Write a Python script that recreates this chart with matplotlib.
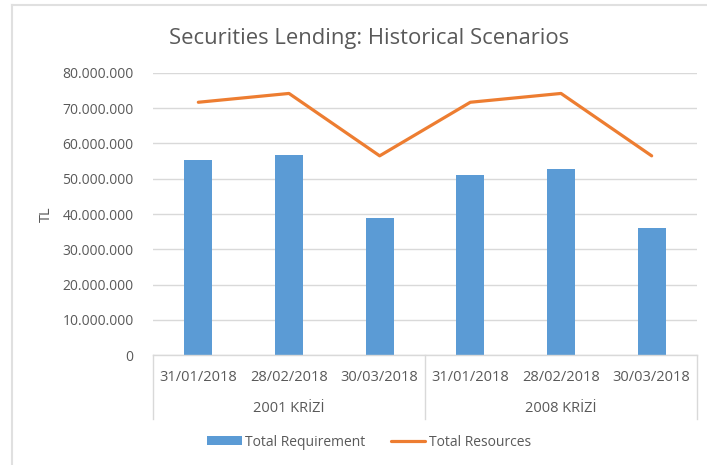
import matplotlib
matplotlib.use("Agg")
import matplotlib.pyplot as plt
from matplotlib.lines import Line2D
from matplotlib.ticker import FuncFormatter
import matplotlib.transforms as mtransforms
import numpy as np

title = "Securities Lending: Historical Scenarios"
groups = ["2001 KRİZİ", "2008 KRİZİ"]
dates = ["31/01/2018", "28/02/2018", "30/03/2018"]
requirement = [55300000, 56800000, 39000000, 51100000, 52700000, 36000000]
resources = [71700000, 74200000, 56500000, 71700000, 74200000, 56500000]
y_ticks = [0, 10000000, 20000000, 30000000, 40000000, 50000000, 60000000, 70000000, 80000000]

plt.rcParams['font.family'] = ['Open Sans', 'DejaVu Sans']
TXT = "#595959"
GRID = "#D9D9D9"
BLUE = "#5B9BD5"
ORANGE = "#ED7D31"

fig = plt.figure(figsize=(7.07, 4.65), dpi=100)
ax = fig.add_axes([153/707, 1-355/465, (697-153)/707, (355-73)/465])

n = len(groups) * len(dates)
x = np.arange(n)
bars = ax.bar(x, requirement, width=0.31, color=BLUE, label="Total Requirement", zorder=2)
line, = ax.plot(x, resources, color=ORANGE, lw=2.3, label="Total Resources", zorder=3,
                solid_joinstyle='round', solid_capstyle='round')

ax.set_xlim(-0.5, n - 0.5)
ax.set_ylim(0, y_ticks[-1])
ax.set_yticks(y_ticks)
ax.yaxis.set_major_formatter(FuncFormatter(lambda v, p: f"{int(v):,}".replace(",", ".")))
ax.grid(axis='y', color=GRID, lw=1, zorder=0)
for s in ["top", "right", "left"]:
    ax.spines[s].set_visible(False)
ax.spines["bottom"].set_color(GRID)
ax.spines["bottom"].set_linewidth(1)
ax.tick_params(axis='y', length=0, labelsize=10, labelcolor=TXT, pad=14)
ax.tick_params(axis='x', length=0, labelsize=10.5, labelcolor=TXT, pad=11)
ax.set_xticks(x)
ax.set_xticklabels(dates * len(groups))
ax.set_ylabel("TL", fontsize=10.5, color=TXT, labelpad=6)

trans = mtransforms.blended_transform_factory(ax.transData, ax.transAxes)
bottom = -(419 - 355) / (355 - 73)
for b in np.arange(len(groups) + 1) * len(dates) - 0.5:
    ax.add_line(Line2D([b, b], [0, bottom], transform=trans, color=GRID, lw=1, clip_on=False))
for i, g in enumerate(groups):
    cx = i * len(dates) + (len(dates) - 1) / 2
    ax.text(cx, -(408 - 355) / (355 - 73), g, transform=trans, ha='center', va='center',
            fontsize=10.5, color=TXT)

fig.text(369/707, 1-38/465, title, ha='center', va='center', fontsize=15.8, color=TXT)

leg = fig.legend([bars, line], ["Total Requirement", "Total Resources"],
                 loc='center', bbox_to_anchor=(369/707, 1-442/465), ncol=2, frameon=False,
                 fontsize=10, labelcolor=TXT, handlelength=2.5, handleheight=0.6,
                 columnspacing=1.8, handletextpad=0.25)

fig.add_artist(Line2D([12/707, 12/707], [0, 1-5.5/465], transform=fig.transFigure, color="#E0E0E0", lw=1.5))
fig.add_artist(Line2D([12/707, 1], [1-5.5/465, 1-5.5/465], transform=fig.transFigure, color="#E0E0E0", lw=1.5))

fig.savefig("out.png", dpi=100)
